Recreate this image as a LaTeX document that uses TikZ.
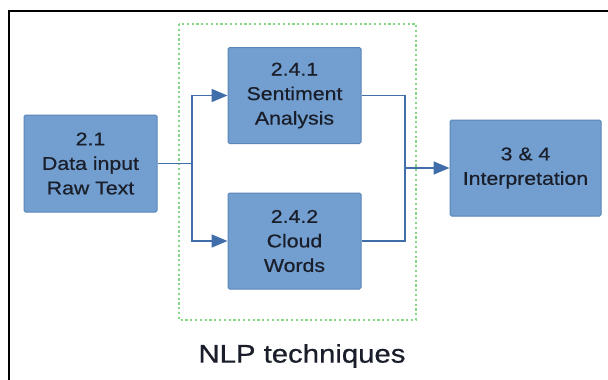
\documentclass[tikz,border=0pt]{standalone}
\usepackage{fontspec}
\setmainfont{Liberation Sans}[FakeStretch=1.15, FakeBold=0.6]
\usetikzlibrary{arrows.meta}
\definecolor{boxfill}{HTML}{729FCF}
\definecolor{boxline}{HTML}{5A86B8}
\definecolor{conn}{HTML}{3F6EAA}
\definecolor{dotgreen}{HTML}{86D886}
\definecolor{txt}{HTML}{1A1E2A}
\tikzset{
  procbox/.style={draw=boxline, line width=1pt, fill=boxfill, rounded corners=1.5pt,
    align=center, text=txt, inner sep=0pt,
    font=\fontsize{18.5}{24.5}\selectfont},
  conline/.style={draw=conn, line width=1.7pt},
  conarrow/.style={conline, -{Triangle[length=16pt,width=13pt]}},
}
\begin{document}
\begin{tikzpicture}[x=1pt,y=-1pt]
\useasboundingbox (0,0) rectangle (608,380);
\fill[white] (0,0) rectangle (608,380);
% outer frame (cut by page edges)
\draw[black, line width=1.6pt] (9,390) -- (9,11) -- (620,11);
% green dotted group
\draw[dotgreen, line width=2.4pt, dash pattern=on 2.2pt off 2.6pt] (179,24) rectangle (416,320);
\node[text=txt, font=\fontsize{25.5}{30}\selectfont] (nlp) at (302,356) {NLP techniques};
% boxes
\node[procbox, minimum width=133, minimum height=97] (in) at (90.5,163.5) {2.1\\Data input\\Raw Text};
\node[procbox, minimum width=133, minimum height=96] (sa) at (294.5,95.5) {2.4.1\\Sentiment\\Analysis};
\node[procbox, minimum width=133, minimum height=96] (cw) at (294.5,241) {2.4.2\\Cloud\\Words};
\node[procbox, minimum width=151, minimum height=96] (ip) at (525.5,168) {3 \& 4\\Interpretation};
% junctions
\coordinate (j1) at (192,163.5);
\coordinate (j2) at (405,168);
% connectors
\draw[conline] (in.east) -- (j1);
\draw[conarrow] (j1) |- (sa.west);
\draw[conarrow] (j1) |- (cw.west);
\draw[conline] (sa.east) -| (j2);
\draw[conline] (cw.east) -| (j2);
\draw[conarrow] (j2) -- (ip.west);
\end{tikzpicture}
\end{document}
